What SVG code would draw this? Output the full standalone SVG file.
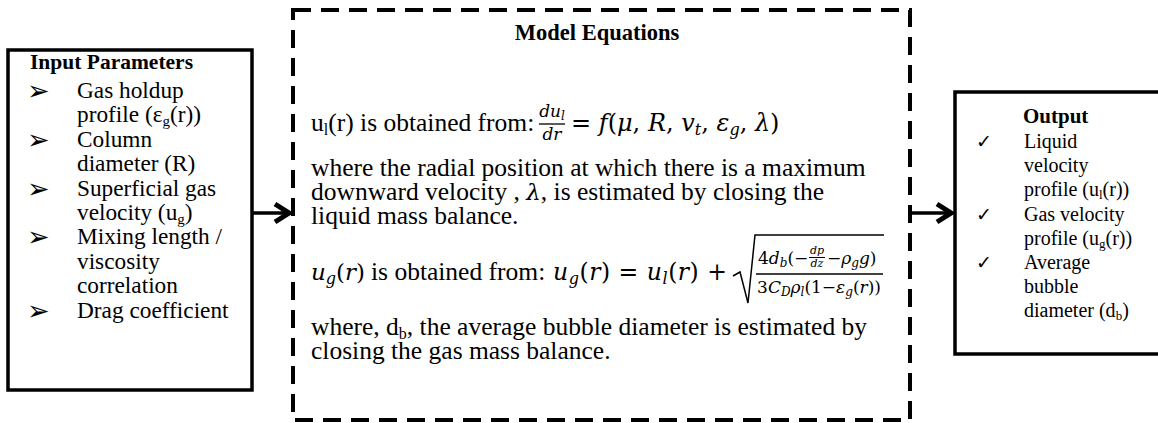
<svg xmlns="http://www.w3.org/2000/svg" width="1158" height="423" viewBox="0 0 1158 423">
<defs>
<style>
.t{font-family:"Liberation Serif","Times New Roman",serif;fill:#000}
.b{font-weight:bold}
.l{font-size:23.3px}
.r{font-size:20px}
.c{font-size:25.5px}
.m{font-family:"DejaVu Serif",serif;font-style:italic;fill:#000}
.up{font-style:normal}
.sym{font-family:"DejaVu Sans",sans-serif;fill:#000}
.box{fill:#fff;stroke:#000;stroke-width:3.5}
.dash{fill:none;stroke:#000;stroke-width:4;stroke-dasharray:18 10}
.conn{stroke:#000;stroke-width:3.5;fill:none}
.rule{stroke:#000;stroke-width:1.3}
</style>
<marker id="head" viewBox="0 0 24 24" refX="21" refY="12" markerWidth="24" markerHeight="24" markerUnits="userSpaceOnUse" orient="auto">
<path d="M6,3 L20,12 L6,21" fill="none" stroke="#000" stroke-width="5" stroke-linejoin="miter"/>
</marker>
</defs>
<rect width="1158" height="423" fill="#fff"/>

<g id="input-parameters">
<rect class="box" x="8" y="50" width="244" height="340"/>
<text class="t b" x="30" y="69" font-size="21.5">Input Parameters</text>
<g class="sym" font-size="27">
<text x="27" y="100">➢</text>
<text x="27" y="148.8">➢</text>
<text x="27" y="197.6">➢</text>
<text x="27" y="246.4">➢</text>
<text x="27" y="319.6">➢</text>
</g>
<g class="t l">
<text x="77" y="98">Gas holdup</text>
<text x="77" y="122.4">profile (ε<tspan font-size="15" dy="4">g</tspan><tspan dy="-4">(r))</tspan></text>
<text x="77" y="146.8">Column</text>
<text x="77" y="171.2">diameter (R)</text>
<text x="77" y="195.6">Superficial gas</text>
<text x="77" y="220">velocity (u<tspan font-size="15" dy="4">g</tspan><tspan dy="-4">)</tspan></text>
<text x="77" y="244.4">Mixing length /</text>
<text x="77" y="268.8">viscosity</text>
<text x="77" y="293.2">correlation</text>
<text x="77" y="317.6">Drag coefficient</text>
</g>
</g>

<g id="model-equations">
<rect class="dash" x="293" y="10" width="617" height="410"/>
<text class="t b" x="597" y="40" font-size="22.5" text-anchor="middle">Model Equations</text>
<g class="t c">
<text x="311" y="131">u<tspan font-size="16" dy="4">l</tspan><tspan dy="-4">(r) is obtained from:</tspan></text>
<text x="311" y="176">where the radial position at which there is a maximum</text>
<text x="311" y="200">downward velocity , <tspan class="m" font-size="23">λ</tspan>,  is estimated by closing the</text>
<text x="311" y="224">liquid mass balance.</text>
<text x="371" y="280"> is obtained from:</text>
<text x="311" y="335">where, d<tspan font-size="16" dy="4">b</tspan><tspan dy="-4">, the average bubble diameter is estimated by</tspan></text>
<text x="311" y="359">closing the gas mass balance.</text>
</g>
<text class="m" x="552" y="117" font-size="17" text-anchor="middle">du<tspan font-size="12" dy="3">l</tspan></text>
<line class="rule" x1="539" y1="124" x2="565" y2="124"/>
<text class="m" x="552" y="140" font-size="17" text-anchor="middle">dr</text>
<text class="m" x="571" y="131" font-size="24"><tspan class="up">=</tspan> f<tspan class="up">(</tspan>μ<tspan class="up">,</tspan> R<tspan class="up">,</tspan> v<tspan font-size="16" dy="4">t</tspan><tspan class="up" dy="-4">,</tspan> ε<tspan font-size="16" dy="4">g</tspan><tspan class="up" dy="-4">,</tspan> λ<tspan class="up">)</tspan></text>
<text class="m" x="311" y="280" font-size="23">u<tspan font-size="16" dy="4">g</tspan><tspan class="up" dy="-4">(</tspan>r<tspan class="up">)</tspan></text>
<text class="m" x="553" y="280" font-size="23.5" textLength="174" lengthAdjust="spacing">u<tspan font-size="16" dy="4">g</tspan><tspan class="up" dy="-4">(</tspan>r<tspan class="up">) = </tspan>u<tspan font-size="16" dy="4">l</tspan><tspan class="up" dy="-4">(</tspan>r<tspan class="up">) +</tspan></text>
<path d="M733,276 L740,272 L748,303 L755,235 L884,235" fill="none" stroke="#000" stroke-width="1.5"/>
<text class="m" x="758" y="264" font-size="17"><tspan class="up">4</tspan>d<tspan font-size="12" dy="3">b</tspan><tspan class="up" dy="-3">(−</tspan></text>
<text class="m" x="817" y="254" font-size="11" text-anchor="middle">dp</text>
<line x1="809" y1="257.5" x2="825" y2="257.5" stroke="#000" stroke-width="1"/>
<text class="m" x="817" y="267" font-size="11" text-anchor="middle">dz</text>
<text class="m" x="827" y="264" font-size="17"><tspan class="up">−</tspan>ρ<tspan font-size="12" dy="3">g</tspan><tspan dy="-3">g</tspan><tspan class="up">)</tspan></text>
<line class="rule" x1="756" y1="274" x2="883" y2="274"/>
<text class="m" x="819" y="293" font-size="17" text-anchor="middle"><tspan class="up">3</tspan>C<tspan font-size="12" dy="3">D</tspan><tspan dy="-3">ρ</tspan><tspan font-size="12" dy="3">l</tspan><tspan class="up" dy="-3">(1−</tspan>ε<tspan font-size="12" dy="3">g</tspan><tspan class="up" dy="-3">(</tspan>r<tspan class="up">))</tspan></text>
</g>

<g id="output">
<rect class="box" x="955" y="92" width="210" height="262"/>
<text class="t b" x="1023" y="123" font-size="21">Output</text>
<g class="sym" font-size="19">
<text x="976" y="148">✓</text>
<text x="976" y="221">✓</text>
<text x="976" y="269">✓</text>
</g>
<g class="t r">
<text x="1024" y="148">Liquid</text>
<text x="1024" y="172">velocity</text>
<text x="1024" y="196">profile (u<tspan font-size="13" dy="3">l</tspan><tspan dy="-3">(r))</tspan></text>
<text x="1024" y="221">Gas velocity</text>
<text x="1024" y="245">profile (u<tspan font-size="13" dy="3">g</tspan><tspan dy="-3">(r))</tspan></text>
<text x="1024" y="269">Average</text>
<text x="1024" y="293">bubble</text>
<text x="1024" y="317">diameter (d<tspan font-size="13" dy="3">b</tspan><tspan dy="-3">)</tspan></text>
</g>
</g>

<g id="connectors">
<line class="conn" x1="252" y1="213" x2="290" y2="213" marker-end="url(#head)"/>
<line class="conn" x1="910" y1="213" x2="952" y2="213" marker-end="url(#head)"/>
</g>
</svg>
